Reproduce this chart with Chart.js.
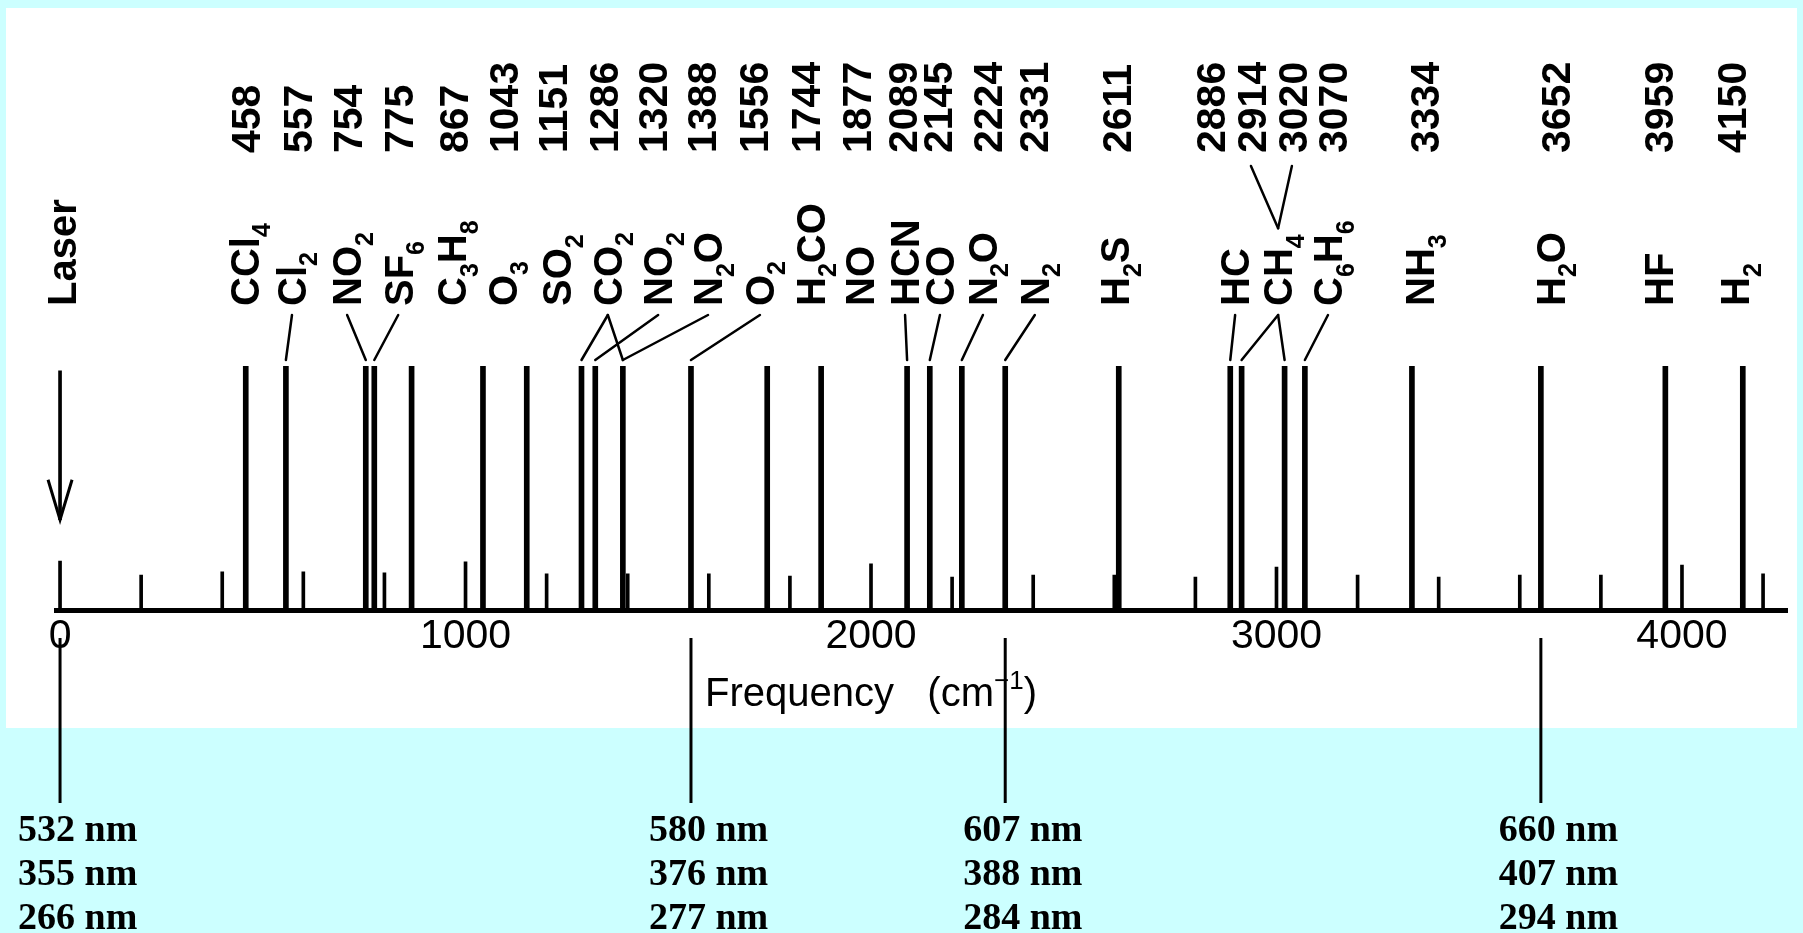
<!DOCTYPE html>
<html>
<head>
<meta charset="utf-8">
<script src="https://cdn.jsdelivr.net/npm/chart.js@4.4.0/dist/chart.umd.min.js"></script>
<style>
html,body{margin:0;padding:0;background:#ccffff;overflow:hidden}
canvas{display:block}
</style>
</head>
<body>
<canvas id="c" width="1803" height="933"></canvas>
<script>
// ---- data (Raman shifts in cm^-1) ----
const shifts      = [458,557,754,775,867,1043,1151,1286,1320,1388,1556,1744,1877,2089,2145,2224,2331,2611,2886,2914,3020,3070,3334,3652,3959,4150];
const lineHeights = [100,100,100,100,100,100,100,100,100,100,100,100,100,100,100,100,100,100,100,100,100,100,100,100,100,100];
// positions (cm^-1) where the printed shift numbers sit
const shiftLabelAt = [456,584,708,834,969,1092,1213,1339,1460,1581,1709,1837,1965,2076,2163,2286,2400,2604,2836,2937,3038,3137,3364,3687,3941,4121];
// molecule labels ("_" marks a subscript digit) and where they sit
const moleculeNames = ['Laser','CCl_4','Cl_2','NO_2','SF_6','C_3H_8','O_3','SO_2','CO_2','NO_2','N_2O','O_2','H_2CO','NO','HCN','CO','N_2O','N_2','H_2S','HC','CH_4','C_6H_6','NH_3','H_2O','HF','H_2'];
const moleculeAt    = [5,456,572,708,834,967,1092,1226,1351,1475,1598,1726,1850,1973,2084,2170,2276,2404,2602,2898,3004,3127,3354,3675,3943,4131];
// leader lines: [label position, line position]
const leaderFrom = [572,708,834,1351,1351,1475,1598,1726,2084,2170,2276,2404,2898,3004,3004,3127];
const leaderTo   = [557,754,775,1286,1388,1320,1388,1556,2089,2145,2224,2331,2886,2914,3020,3070];
// upper leaders: CH4 label to its two shift numbers
const upperFrom = [3004,3004];
const upperTo   = [2937,3038];
// small scale marks along the baseline
const markAt      = [0,200,400,600,800,1000,1200,1400,1600,1800,2000,2200,2400,2600,2800,3000,3200,3400,3600,3800,4000,4200];
const markHeights = [20,14.3,15.6,15.6,15.2,19.7,14.8,14.8,14.8,13.9,18.9,13.5,14.3,14.3,13.5,17.6,14.3,13.5,14.3,14.3,18.4,14.8];
// laser arrow (vertical extent, relative units)
const laserAt = 0;
const laserSpan = [37, 98];
// axis ticks
const tickValues = [0,1000,2000,3000,4000];
const axisTitle = 'Frequency   (cm';
const axisTitleSup = '\u22121';
// wavelength annotations
const wlAt   = [0,1556,2331,3652];
const wlRow1 = ['532 nm','580 nm','607 nm','660 nm'];
const wlRow2 = ['355 nm','376 nm','388 nm','407 nm'];
const wlRow3 = ['266 nm','277 nm','284 nm','294 nm'];

const SANS = '"Liberation Sans", Arial, sans-serif';
const SERIF = '"Liberation Serif", "Times New Roman", serif';

function parseRich(s){
  const segs=[]; let i=0; let buf='';
  while(i<s.length){
    if(s[i]==='_'){ if(buf){segs.push({t:buf,sub:false});buf='';} segs.push({t:s[i+1],sub:true}); i+=2; }
    else { buf+=s[i]; i++; }
  }
  if(buf) segs.push({t:buf,sub:false});
  return segs;
}
function drawRotated(ctx, str, cx, bottomY, size){
  const capH = 0.716*size;
  ctx.save();
  ctx.translate(cx + capH/2, bottomY);
  ctx.rotate(-Math.PI/2);
  ctx.textAlign='left'; ctx.textBaseline='alphabetic';
  let x=0;
  for(const seg of parseRich(str)){
    const fs = seg.sub ? Math.round(size*0.62) : size;
    ctx.font = 'bold '+fs+'px '+SANS;
    ctx.fillText(seg.t, x, seg.sub ? size*0.28 : 0);
    x += ctx.measureText(seg.t).width;
  }
  ctx.restore();
  return x;
}

const decor = {
  id:'decor',
  beforeDraw(chart){
    const ctx=chart.ctx;
    ctx.save();
    ctx.fillStyle='#ccffff'; ctx.fillRect(0,0,chart.width,chart.height);
    ctx.fillStyle='#ffffff'; ctx.fillRect(6,8,1791,720);
    ctx.restore();
  },
  afterDraw(chart){
    const ctx=chart.ctx, xs=chart.scales.x, ys=chart.scales.y;
    const px=v=>xs.getPixelForValue(v);
    const lineTop = ys.getPixelForValue(100);
    const numBottom = 153, labBottom = 306;
    ctx.save();
    ctx.fillStyle='#000'; ctx.strokeStyle='#000';
    // shift numbers
    shifts.forEach((s,i)=>drawRotated(ctx, String(s), px(shiftLabelAt[i]), numBottom, 41));
    // molecule labels
    const lens = moleculeNames.map((m,i)=>drawRotated(ctx, m, px(moleculeAt[i]), labBottom, 40));
    // leader lines
    ctx.lineWidth=2.5; ctx.lineCap='round';
    leaderFrom.forEach((f,i)=>{
      ctx.beginPath();
      ctx.moveTo(px(f), labBottom+9);
      ctx.lineTo(px(leaderTo[i]), lineTop-6);
      ctx.stroke();
    });
    const ch4 = moleculeAt.indexOf(upperFrom[0]);
    const apexY = labBottom - lens[ch4] - 6;
    upperFrom.forEach((f,i)=>{
      ctx.beginPath();
      ctx.moveTo(px(f), apexY);
      ctx.lineTo(px(upperTo[i]), numBottom+13);
      ctx.stroke();
    });
    // laser arrow head
    const lx = px(laserAt), tip = ys.getPixelForValue(laserSpan[0]);
    ctx.lineWidth=3; ctx.lineCap='butt';
    ctx.beginPath();
    ctx.moveTo(lx-12, tip-40); ctx.lineTo(lx, tip); ctx.lineTo(lx+12, tip-40);
    ctx.stroke();
    // axis title
    ctx.font='40px '+SANS; ctx.textBaseline='alphabetic'; ctx.textAlign='left';
    const w1 = ctx.measureText(axisTitle).width;
    ctx.font='26px '+SANS;
    const w2 = ctx.measureText(axisTitleSup).width;
    ctx.font='40px '+SANS;
    const w3 = ctx.measureText(')').width;
    let tx = px(2000) - (w1+w2+w3)/2;
    const ty = 706;
    ctx.fillText(axisTitle, tx, ty);
    ctx.font='26px '+SANS; ctx.fillText(axisTitleSup, tx+w1, ty-17);
    ctx.font='40px '+SANS; ctx.fillText(')', tx+w1+w2, ty);
    // wavelength annotation lines and text
    ctx.lineWidth=3;
    ctx.font='bold 38px '+SERIF; ctx.textAlign='left';
    wlAt.forEach((v,i)=>{
      const x=px(v);
      ctx.beginPath(); ctx.moveTo(x,638); ctx.lineTo(x,803); ctx.stroke();
      ctx.fillText(wlRow1[i], x-42, 841);
      ctx.fillText(wlRow2[i], x-42, 885);
      ctx.fillText(wlRow3[i], x-42, 929);
    });
    ctx.restore();
  }
};

new Chart(document.getElementById('c'), {
  type:'bar',
  data:{datasets:[
    {label:'Raman lines', data: shifts.map((s,i)=>({x:s,y:lineHeights[i]})), backgroundColor:'#000', barThickness:5, grouped:false},
    {label:'marks', data: markAt.map((s,i)=>({x:s,y:markHeights[i]})), backgroundColor:'#000', barThickness:3, grouped:false},
    {label:'laser', data:[{x:laserAt, y:laserSpan}], backgroundColor:'#000', barThickness:3, grouped:false}
  ]},
  options:{
    responsive:false, animation:false, devicePixelRatio:1,
    layout:{padding:{left:56.8, right:15.6, top:366, bottom:263}},
    plugins:{legend:{display:false}, tooltip:{enabled:false}},
    scales:{
      x:{type:'linear', min:-8, max:4260, offset:false,
         grid:{display:false, drawTicks:false},
         border:{display:true, color:'#000', width:5},
         afterBuildTicks:s=>{ s.ticks = tickValues.map(v=>({value:v})); },
         afterFit:s=>{ s.height = 60; },
         ticks:{padding:2, color:'#000', font:{family:SANS, size:41}, maxRotation:0, autoSkip:false,
                callback:v=>String(v)}},
      y:{display:false, min:0, max:100}
    }
  },
  plugins:[decor]
});
</script>
</body>
</html>
